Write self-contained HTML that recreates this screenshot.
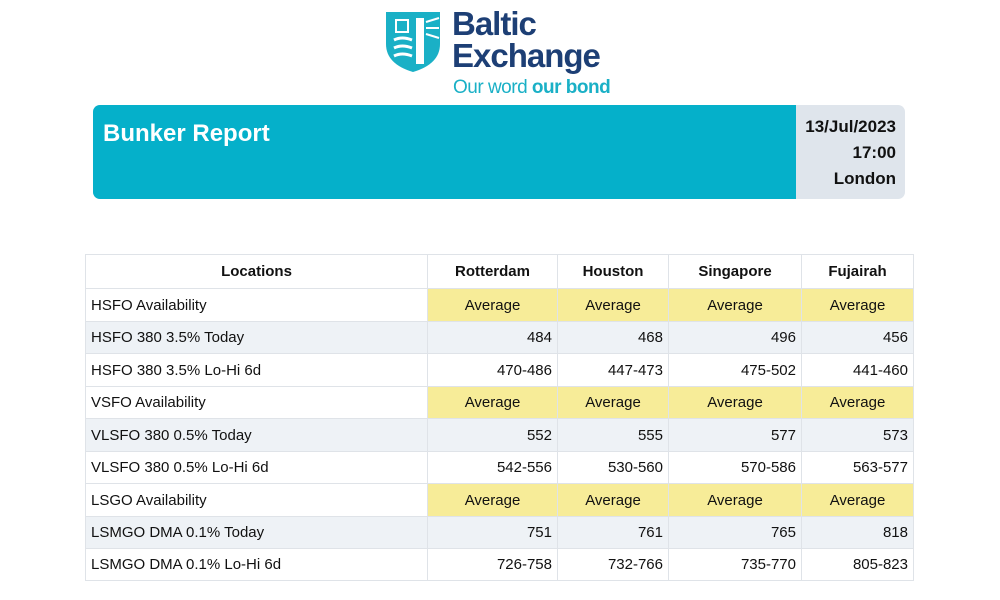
<!DOCTYPE html>
<html><head><meta charset="utf-8"><style>
body{margin:0;width:1000px;height:600px;background:#fff;font-family:"Liberation Sans",Arial,sans-serif;position:relative;overflow:hidden}
.abs{position:absolute}
table{position:absolute;left:85px;top:254px;border-collapse:collapse;font-size:15px;color:#111}
td,th{border:1px solid #dfe3e8;padding:0 5px;height:31px;box-sizing:border-box}
th{height:34px;font-weight:bold;text-align:center}
.y{background:#f7ec98;text-align:center}
.g td{background:#eef2f6}
.n{text-align:right}
</style></head><body>
<div class="abs" style="left:384px;top:10px;width:240px;height:90px">
<svg width="60" height="64" style="position:absolute;left:0;top:0">
<path d="M2 2 H56 V34 Q56 54 29 62 Q2 54 2 34 Z" fill="#1ab0c6"/>
<path d="M10 30 Q18 26 28 30 M10 38 Q18 34 28 38 M10 46 Q18 42 28 46" stroke="#fff" stroke-width="3" fill="none"/>
<rect x="32" y="8" width="8" height="46" fill="#fff"/>
<path d="M12 10 h12 v12 h-12z" fill="none" stroke="#fff" stroke-width="2"/>
<path d="M42 12 L55 8 M42 18 L55 18 M42 24 L55 28" stroke="#fff" stroke-width="2"/>
</svg>
<div class="abs" style="left:68px;top:-2px;font-size:33px;line-height:32px;color:#1d3f75;font-weight:bold;letter-spacing:-1px">Baltic<br>Exchange</div>
<div class="abs" style="left:69px;top:67px;font-size:19px;color:#1ab0c6;letter-spacing:-0.5px;white-space:nowrap">Our word <b>our bond</b></div>
</div>
<div class="abs" style="left:93px;top:105px;width:812px;height:94px;border-radius:7px;overflow:hidden;background:#dfe5ec">
<div class="abs" style="left:0;top:0;width:703px;height:94px;background:#05b0ca"></div>
<div class="abs" style="left:10px;top:15px;font-size:24px;font-weight:bold;color:#fff">Bunker Report</div>
<div class="abs" style="right:9px;top:9px;font-size:17px;font-weight:bold;color:#111;text-align:right;line-height:26px">13/Jul/2023<br>17:00<br>London</div>
</div>
<table>
<colgroup><col style="width:342px"><col style="width:130px"><col style="width:111px"><col style="width:133px"><col style="width:112px"></colgroup>
<tr><th>Locations</th><th>Rotterdam</th><th>Houston</th><th>Singapore</th><th>Fujairah</th></tr>
<tr style="height:33px"><td>HSFO Availability</td><td class="y">Average</td><td class="y">Average</td><td class="y">Average</td><td class="y">Average</td></tr>
<tr class="g" style="height:32px"><td>HSFO 380 3.5% Today</td><td class="n">484</td><td class="n">468</td><td class="n">496</td><td class="n">456</td></tr>
<tr style="height:33px"><td>HSFO 380 3.5% Lo-Hi 6d</td><td class="n">470-486</td><td class="n">447-473</td><td class="n">475-502</td><td class="n">441-460</td></tr>
<tr style="height:32px"><td>VSFO Availability</td><td class="y">Average</td><td class="y">Average</td><td class="y">Average</td><td class="y">Average</td></tr>
<tr class="g" style="height:33px"><td>VLSFO 380 0.5% Today</td><td class="n">552</td><td class="n">555</td><td class="n">577</td><td class="n">573</td></tr>
<tr style="height:32px"><td>VLSFO 380 0.5% Lo-Hi 6d</td><td class="n">542-556</td><td class="n">530-560</td><td class="n">570-586</td><td class="n">563-577</td></tr>
<tr style="height:33px"><td>LSGO Availability</td><td class="y">Average</td><td class="y">Average</td><td class="y">Average</td><td class="y">Average</td></tr>
<tr class="g" style="height:32px"><td>LSMGO DMA 0.1% Today</td><td class="n">751</td><td class="n">761</td><td class="n">765</td><td class="n">818</td></tr>
<tr style="height:32px"><td>LSMGO DMA 0.1% Lo-Hi 6d</td><td class="n">726-758</td><td class="n">732-766</td><td class="n">735-770</td><td class="n">805-823</td></tr>
</table>
</body></html>
